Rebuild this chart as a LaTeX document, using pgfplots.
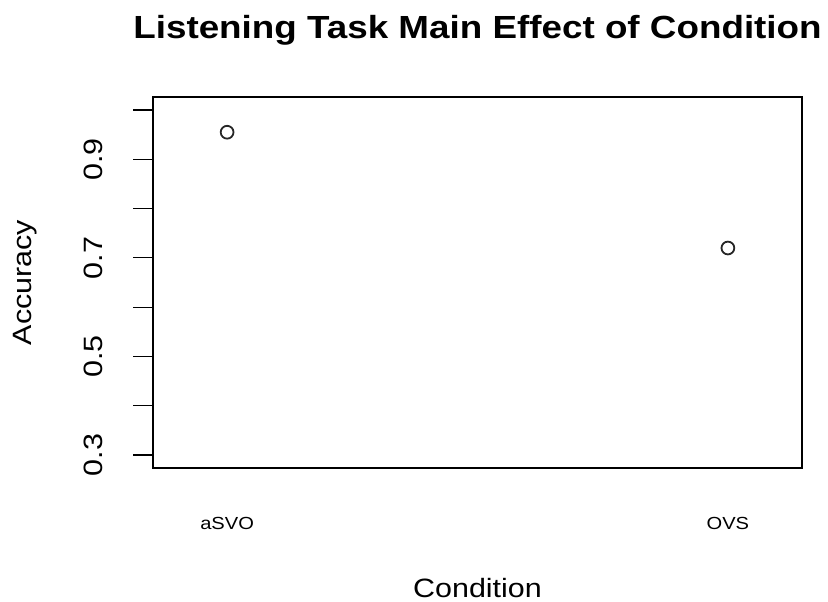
\documentclass[border=0pt]{standalone}
\usepackage{fontspec}
\setmainfont{Liberation Sans}[FakeStretch=1.15]
\usepackage{pgfplots}
\pgfplotsset{compat=1.18}
\begin{document}
\begin{tikzpicture}
\useasboundingbox (0,0) rectangle (828bp,602bp);
\begin{axis}[
  at={(153bp,134bp)}, anchor=south west,
  scale only axis, width=649bp, height=371bp,
  xmin=0.852, xmax=2.148,
  ymin=0.2735, ymax=1.0265,
  axis line style={black, line width=1.2bp},
  xtick={1,2}, xticklabels={aSVO,OVS},
  xtick style={draw=none},
  xtick pos=bottom, ytick pos=left,
  ytick={0.3,0.5,0.7,0.9},
  minor ytick={0.4,0.6,0.8,1.0},
  yticklabels={0.3,0.5,0.7,0.9},
  tick align=outside,
  major tick length=20bp, minor tick length=20bp,
  ytick style={black, line width=1.2bp},
  minor tick style={black, line width=1.2bp},
  /pgf/number format/assume math mode=true,
  xticklabel style={font=\fontsize{17.5bp}{20bp}\selectfont, anchor=base},
  xticklabel shift=41bp,
  yticklabel style={font=\fontsize{26.5bp}{30bp}\selectfont, rotate=90, anchor=base},
  yticklabel shift=30bp,
  title={\bfseries Listening Task Main Effect of Condition},
  title style={font=\fontsize{32bp}{36bp}\selectfont, at={(axis description cs:0.5,1)}, anchor=base, yshift=53bp},
  xlabel={Condition},
  xlabel style={font=\fontsize{26.5bp}{30bp}\selectfont, at={(axis description cs:0.5,0)}, anchor=base, yshift=-129bp},
  ylabel={Accuracy},
  ylabel style={font=\fontsize{26.5bp}{30bp}\selectfont, at={([xshift=-121bp]axis description cs:0,0.5)}, anchor=base, rotate=0},
]
\addplot[only marks, mark=o, mark size=6.4bp, mark options={line width=1.8bp, draw=black!85}] coordinates {(1,0.955) (2,0.720)};
\end{axis}
\end{tikzpicture}
\end{document}
